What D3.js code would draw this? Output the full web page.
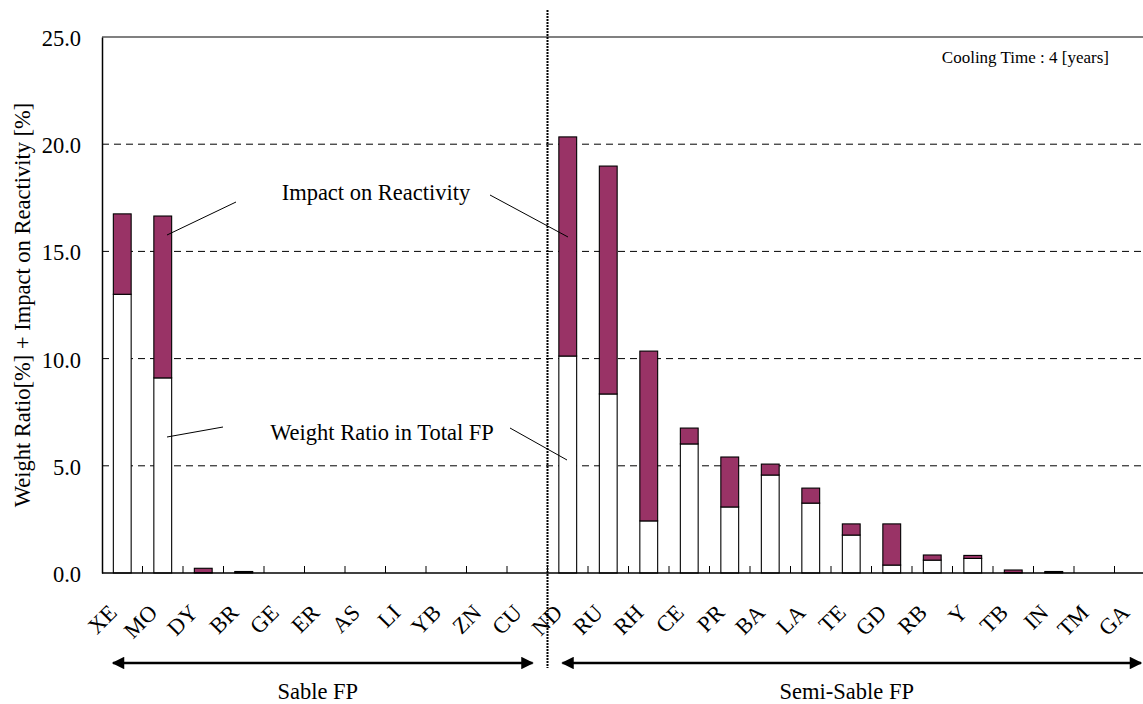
<!DOCTYPE html>
<html>
<head>
<meta charset="utf-8">
<script src="https://cdn.jsdelivr.net/npm/d3@7"></script>
<style>
  body { margin: 0; background: #fff; }
  svg text { font-family: 'Liberation Serif', 'Times New Roman', serif; fill: #000; }
</style>
</head>
<body>
<div id="chart"></div>
<script>
// categories, left group then right group
var sableFP = ['XE', 'MO', 'DY', 'BR', 'GE', 'ER', 'AS', 'LI', 'YB', 'ZN', 'CU']
var semiSableFP = ['ND', 'RU', 'RH', 'CE', 'PR', 'BA', 'LA', 'TE', 'GD', 'RB', 'Y', 'TB', 'IN', 'TM', 'GA']
var elements = sableFP.concat(semiSableFP)

// weight ratio in total FP [%]
var weightRatio = [13.0, 9.1, 0.02, 0.04, 0, 0, 0, 0, 0, 0, 0,
  10.12, 8.35, 2.43, 6.02, 3.08, 4.57, 3.26, 1.77, 0.37, 0.6, 0.68, 0.02, 0.03, 0, 0]
// impact on reactivity [%]
var impact = [3.75, 7.55, 0.2, 0.03, 0, 0, 0, 0, 0, 0, 0,
  10.22, 10.63, 7.92, 0.74, 2.33, 0.51, 0.7, 0.52, 1.92, 0.24, 0.14, 0.12, 0.04, 0, 0]

var yTicks = [0, 5, 10, 15, 20, 25]

var width = 1143
var height = 704
var margin = { top: 37, left: 102, bottom: 131 }
var fontSize = '22.5px'

var svg = d3.select('#chart')
  .append('svg')
  .attr('width', width)
  .attr('height', height)
  .attr('font-family', 'Liberation Serif')

// band of 40.5px per element, the last one runs past the right edge
var xPositionScale = d3.scaleBand()
  .domain(elements)
  .range([margin.left, margin.left + elements.length * 40.5])
  .paddingInner(0)
  .paddingOuter(0)

var yPositionScale = d3.scaleLinear()
  .domain([0, 25])
  .range([height - margin.bottom, margin.top])

var barWidth = xPositionScale.bandwidth() * 0.44

var datapoints = elements.map(function(e, i) {
  return { name: e, weight: weightRatio[i], impact: impact[i] }
})

// grid lines
svg.append('g')
  .selectAll('line')
  .data(yTicks.filter(d => d > 0))
  .enter()
  .append('line')
  .attr('x1', margin.left)
  .attr('x2', width)
  .attr('y1', d => yPositionScale(d))
  .attr('y2', d => yPositionScale(d))
  .attr('stroke', d => d === 25 ? '#808080' : '#000')
  .attr('stroke-width', d => d === 25 ? 2 : 1)
  .attr('stroke-dasharray', d => d === 25 ? null : '7,5')

// y axis
var yAxis = d3.axisLeft(yPositionScale)
  .tickValues(yTicks)
  .tickFormat(d3.format('.1f'))
  .tickSize(0)
  .tickPadding(21)
svg.append('g')
  .attr('class', 'axis y-axis')
  .attr('transform', 'translate(' + margin.left + ',0)')
  .call(yAxis)
  .call(g => g.select('.domain').attr('stroke', '#000').attr('stroke-width', 1.5))
  .call(g => g.selectAll('text').attr('font-size', fontSize).attr('font-family', 'Liberation Serif').attr('dy', '0.38em'))

// bars: white weight part at the bottom, purple impact stacked on top
var bars = svg.append('g')
  .selectAll('.bar')
  .data(datapoints)
  .enter()
  .append('g')
  .attr('class', 'bar')
  .attr('transform', d => 'translate(' + (xPositionScale(d.name) + (xPositionScale.bandwidth() - barWidth) / 2) + ',0)')

bars.filter(d => d.weight + d.impact > 0)
  .append('rect')
  .attr('x', 0)
  .attr('width', barWidth)
  .attr('y', d => yPositionScale(d.weight))
  .attr('height', d => yPositionScale(0) - yPositionScale(d.weight))
  .attr('fill', '#fff')
  .attr('stroke', '#000')
  .attr('stroke-width', 1.1)

bars.filter(d => d.impact > 0)
  .append('rect')
  .attr('x', 0)
  .attr('width', barWidth)
  .attr('y', d => yPositionScale(d.weight + d.impact))
  .attr('height', d => yPositionScale(d.weight) - yPositionScale(d.weight + d.impact))
  .attr('fill', '#993366')
  .attr('stroke', '#000')
  .attr('stroke-width', 1.1)

// x axis, ticks between the categories, pointing up
var bottom = yPositionScale(0)
svg.append('line')
  .attr('x1', margin.left)
  .attr('x2', width)
  .attr('y1', bottom)
  .attr('y2', bottom)
  .attr('stroke', '#000')
  .attr('stroke-width', 1.5)

svg.append('g')
  .selectAll('line')
  .data(elements.slice(1))
  .enter()
  .append('line')
  .attr('x1', d => xPositionScale(d))
  .attr('x2', d => xPositionScale(d))
  .attr('y1', bottom)
  .attr('y2', bottom - 7)
  .attr('stroke', '#000')
  .attr('stroke-width', 1)

svg.append('g')
  .selectAll('text')
  .data(elements)
  .enter()
  .append('text')
  .text(d => d)
  .attr('font-size', fontSize)
  .attr('text-anchor', 'end')
  .attr('transform', d => 'translate(' + (xPositionScale(d) + xPositionScale.bandwidth() / 2 - 4) + ',' + (bottom + 41) + ') rotate(-45)')

// y axis title
svg.append('text')
  .text('Weight Ratio[%] + Impact on Reactivity [%]')
  .attr('font-size', fontSize)
  .attr('text-anchor', 'middle')
  .attr('transform', 'translate(30,' + yPositionScale(12.5) + ') rotate(-90)')

// separator between groups
var sepX = xPositionScale('ND')
svg.append('line')
  .attr('x1', sepX)
  .attr('x2', sepX)
  .attr('y1', 10)
  .attr('y2', 668)
  .attr('stroke', '#000')
  .attr('stroke-width', 2)
  .attr('stroke-dasharray', '2,1')

// group arrows
svg.append('defs').append('marker')
  .attr('id', 'head')
  .attr('viewBox', '0 0 10 10')
  .attr('refX', 9)
  .attr('refY', 5)
  .attr('markerWidth', 5.5)
  .attr('markerHeight', 5)
  .attr('orient', 'auto-start-reverse')
  .append('path')
  .attr('d', 'M0,0 L10,5 L0,10 Z')
  .attr('fill', '#000')

var groups = [
  { label: 'Sable FP', x1: xPositionScale('XE') + 11, x2: xPositionScale('CU') + xPositionScale.bandwidth() - 15 },
  { label: 'Semi-Sable FP', x1: xPositionScale('ND') + 15, x2: width - 2 }
]
groups.forEach(function(g) {
  svg.append('line')
    .attr('x1', g.x1)
    .attr('x2', g.x2)
    .attr('y1', 663)
    .attr('y2', 663)
    .attr('stroke', '#000')
    .attr('stroke-width', 2.5)
    .attr('marker-start', 'url(#head)')
    .attr('marker-end', 'url(#head)')
  svg.append('text')
    .text(g.label)
    .attr('font-size', fontSize)
    .attr('text-anchor', 'middle')
    .attr('x', (g.x1 + g.x2) / 2 - 5)
    .attr('y', 699)
})

// annotations
svg.append('text')
  .text('Impact on Reactivity')
  .attr('font-size', fontSize)
  .attr('text-anchor', 'middle')
  .attr('x', 376)
  .attr('y', 200)

svg.append('text')
  .text('Weight Ratio in Total FP')
  .attr('font-size', fontSize)
  .attr('text-anchor', 'middle')
  .attr('x', 382)
  .attr('y', 440)

var leaders = [
  [236, 202, 167, 235],
  [490, 195, 568, 237],
  [223, 427, 167, 437],
  [510, 428, 567, 460]
]
svg.append('g')
  .selectAll('line')
  .data(leaders)
  .enter()
  .append('line')
  .attr('x1', d => d[0])
  .attr('y1', d => d[1])
  .attr('x2', d => d[2])
  .attr('y2', d => d[3])
  .attr('stroke', '#000')
  .attr('stroke-width', 1)

svg.append('text')
  .text('Cooling Time : 4 [years]')
  .attr('font-size', '17px')
  .attr('text-anchor', 'end')
  .attr('x', 1109)
  .attr('y', 63)
</script>
</body>
</html>
